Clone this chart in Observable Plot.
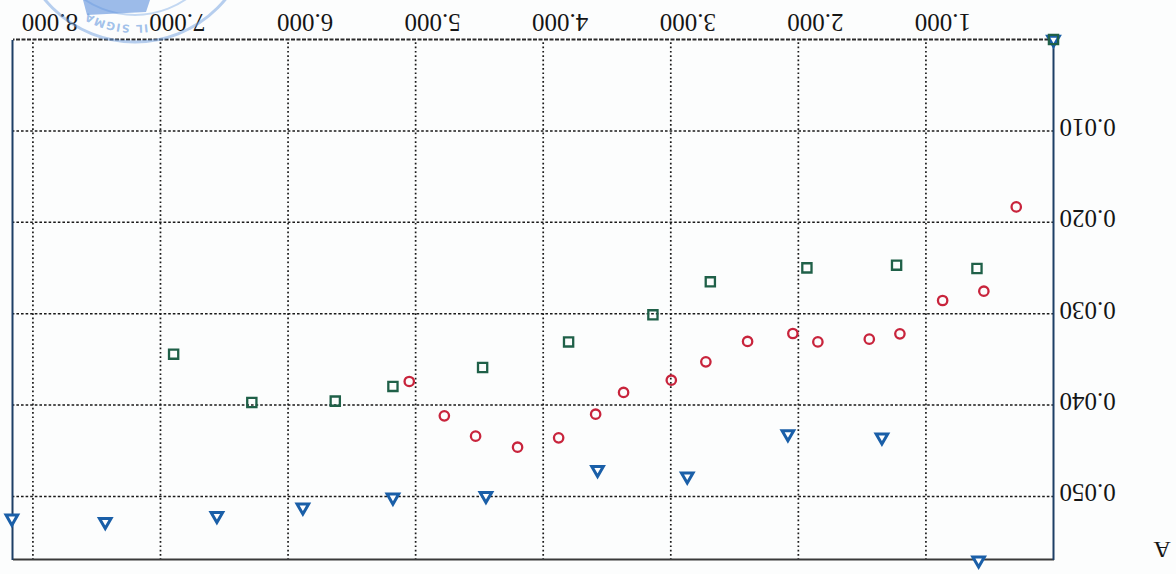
<!DOCTYPE html>
<html>
<head>
<meta charset="utf-8">
<script src="https://cdn.jsdelivr.net/npm/d3@7"></script>
<script src="https://cdn.jsdelivr.net/npm/@observablehq/plot@0.6"></script>
<style>
  html, body { margin: 0; padding: 0; background: #ffffff; }
  #wrap { position: relative; width: 1176px; height: 574px; overflow: hidden;
          transform: rotate(180deg); background: #fcfdfd; }
  #wrap > svg { display: block; }
  #stamp { position: absolute; left: 0; top: 0; pointer-events: none; }
</style>
</head>
<body>
<div id="wrap"></div>
<script>
// ---- tick values and labels ----
const xTicks = [1000, 2000, 3000, 4000, 5000, 6000, 7000, 8000];
const xTickLabels = ["1.000", "2.000", "3.000", "4.000", "5.000", "6.000", "7.000", "8.000"];
const yTicks = [0.01, 0.02, 0.03, 0.04, 0.05];
const yTickLabels = ["0.010", "0.020", "0.030", "0.040", "0.050"];
const yAxisLabel = "A";

// ---- series: red circles ----
const circleX = [292, 546, 869, 1204, 1444, 1847, 2043, 2398, 2725, 2996, 3370, 3589, 3879, 4201, 4530, 4775, 5050];
const circleY = [0.01832, 0.02754, 0.02856, 0.03221, 0.03279, 0.03309, 0.03217, 0.03304, 0.03527, 0.03728, 0.03862, 0.04100, 0.04359, 0.04461, 0.04340, 0.04118, 0.03742];

// ---- series: green squares ----
const squareX = [0, 600, 1230, 1933, 2690, 3140, 3801, 4475, 5178, 5630, 6284, 6897];
const squareY = [0, 0.02505, 0.02469, 0.02499, 0.02652, 0.03013, 0.03309, 0.03589, 0.03796, 0.03957, 0.03972, 0.03443];

// ---- series: blue triangles ----
const triangleX = [0, 587, 1345, 2082, 2871, 3574, 4449, 5178, 5884, 6558, 7433, 8165];
const triangleY = [0, 0.0570, 0.04354, 0.04318, 0.04781, 0.04709, 0.04993, 0.05011, 0.05120, 0.05212, 0.05278, 0.05241];

const circles = circleX.map((x, i) => ({x, y: circleY[i]}));
const squares = squareX.map((x, i) => ({x, y: squareY[i]}));
const triangles = triangleX.map((x, i) => ({x, y: triangleY[i]}));

const chart = Plot.plot({
  width: 1176,
  height: 574,
  marginLeft: 122,
  marginRight: 13,
  marginTop: 14,
  marginBottom: 40,
  x: {domain: [0, 8160]},
  y: {domain: [0, 0.0569]},
  style: {
    fontFamily: "'Liberation Serif', 'Times New Roman', serif",
    fontSize: "25px",
    background: "transparent",
    color: "#151515"
  },
  marks: [
    Plot.ruleX(xTicks, {stroke: "#1a1a1a", strokeWidth: 1.7, strokeDasharray: "1.7,2.6"}),
    Plot.ruleY(yTicks, {stroke: "#1a1a1a", strokeWidth: 1.5, strokeDasharray: "2.6,2"}),
    Plot.ruleY([0], {stroke: "#2a2a2a", strokeWidth: 2.2, strokeDasharray: "4,1.5"}),
    Plot.ruleY([0.0569], {stroke: "#3a3a3a", strokeWidth: 2}),
    Plot.ruleX([8160], {stroke: "#1d3f66", strokeWidth: 2}),
    Plot.ruleX([0], {stroke: "#1d3f66", strokeWidth: 2}),
    Plot.axisX({
      ticks: xTicks,
      tickFormat: d => xTickLabels[xTicks.indexOf(d)],
      tickSize: 0,
      tickPadding: 8,
      dx: -17,
      fontSize: 25,
      label: null
    }),
    Plot.axisY({
      ticks: yTicks,
      tickFormat: d => yTickLabels[yTicks.indexOf(d)],
      tickSize: 0,
      tickPadding: 6,
      dy: 4,
      fontSize: 25,
      label: null
    }),
    Plot.text([yAxisLabel], {
      text: d => d,
      frameAnchor: "top-left",
      dx: -108.5,
      dy: 10,
      textAnchor: "middle",
      lineAnchor: "middle",
      fontSize: 24
    }),
    Plot.dot(triangles, {x: "x", y: "y", symbol: "triangle", r: 4.3, stroke: "#1a5fa8", strokeWidth: 3, fill: "#ffffff"}),
    Plot.dot(squares, {x: "x", y: "y", symbol: "square", r: 5.2, stroke: "#1f6048", strokeWidth: 2.3, fill: "none"}),
    Plot.dot(circles, {x: "x", y: "y", symbol: "circle", r: 4.7, stroke: "#c8243c", strokeWidth: 2.3, fill: "none"})
  ]
});

const wrap = document.getElementById("wrap");
wrap.appendChild(chart);

// faint ink stamp from the scanned page (decoration)
const ns = "http://www.w3.org/2000/svg";
const stamp = document.createElementNS(ns, "svg");
stamp.setAttribute("id", "stamp");
stamp.setAttribute("width", 1176);
stamp.setAttribute("height", 574);
const cx = 1041, cy = 649;
stamp.innerHTML = `
  <circle cx="${cx}" cy="${cy}" r="117" fill="none" stroke="#6f9fe0" stroke-opacity="0.5" stroke-width="3"/>
  <circle cx="${cx}" cy="${cy}" r="90" fill="none" stroke="#6f9fe0" stroke-opacity="0.4" stroke-width="2"/>
  <path d="M1026,574 L1030,562 L1089,559 L1093,574 Z" fill="#5b8fdc" fill-opacity="0.6"/>
  <path id="stampArc" d="M${cx - 100 * Math.cos(Math.PI / 6)},${cy - 100 * Math.sin(Math.PI / 6)} A100,100 0 0 1 ${cx + 100 * Math.cos(Math.PI / 6)},${cy - 100 * Math.sin(Math.PI / 6)}" fill="none"/>
  <text font-family="'DejaVu Sans', sans-serif" font-size="11" font-weight="bold" fill="#6f9fe0" fill-opacity="0.65" letter-spacing="1">
    <textPath href="#stampArc" startOffset="59%" text-anchor="middle">IL SIGMA</textPath>
  </text>`;
wrap.appendChild(stamp);
</script>
</body>
</html>
